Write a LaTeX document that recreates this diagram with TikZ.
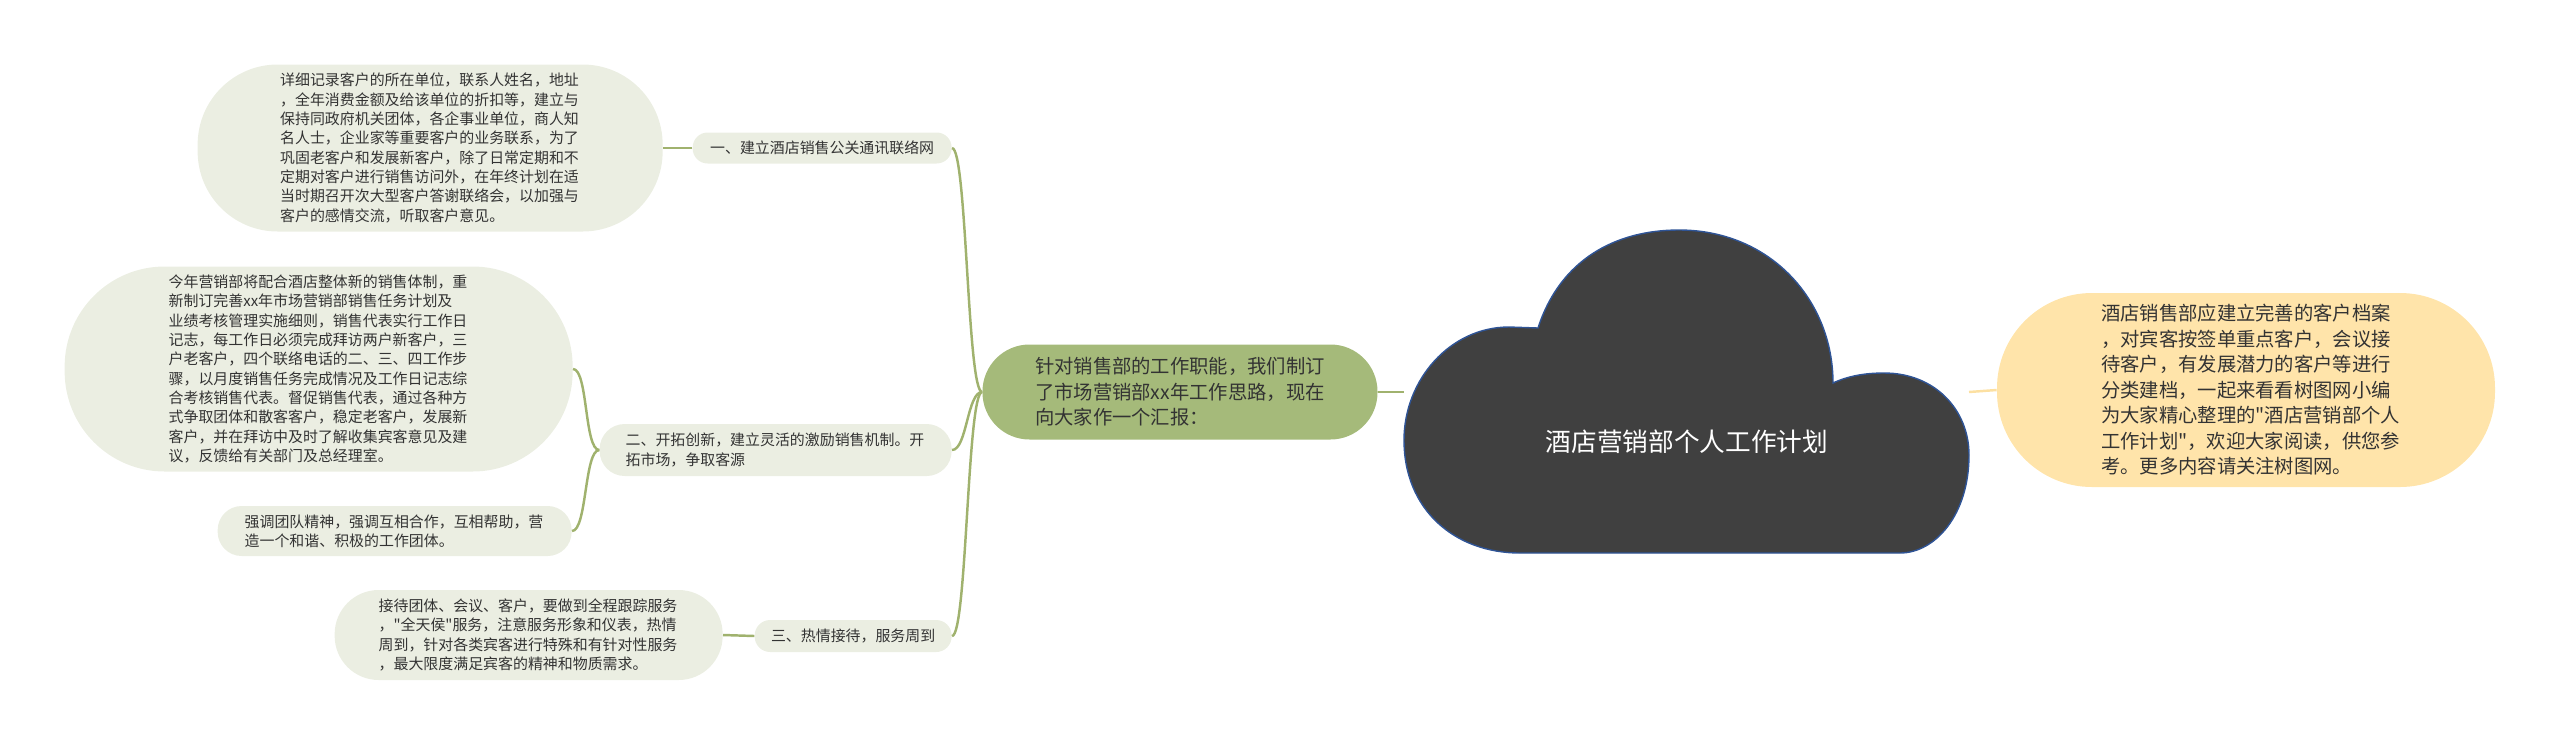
\documentclass[tikz,border=0pt]{standalone}
\usepackage{fontspec}
\setmainfont{Noto Sans CJK SC}
\newfontfamily\rawcjk{Noto Sans CJK SC}
\usetikzlibrary{positioning, calc}
\definecolor{leafbg}{HTML}{EBEEE2}
\definecolor{mainbg}{HTML}{A5BA7A}
\definecolor{introbg}{HTML}{FFE4AA}
\definecolor{cloudbg}{HTML}{404040}
\definecolor{cloudline}{HTML}{2F5496}
\definecolor{lgreen}{HTML}{A0B26E}
\definecolor{lyellow}{HTML}{FCE0A2}
\definecolor{ink}{HTML}{333333}
% plain straight double quote (no tex-text mapping)
\newcommand{\sq}{{\rawcjk"}}
\tikzset{
  leaf/.style={
    fill=leafbg, text=ink, align=left, text width=6cm, inner sep=0pt,
    font=\fontsize{8.5}{11}\selectfont
  },
  branch/.style={
    fill=leafbg, text=ink, align=left, inner sep=0pt,
    font=\fontsize{8.5}{11}\selectfont
  },
  hub/.style={
    fill=#1, text=ink, align=left, text width=5.8cm, inner sep=0pt,
    font=\fontsize{11}{14.5}\selectfont
  },
  conn/.style={draw=lgreen, line width=1.4pt},
  yconn/.style={draw=lyellow, line width=1.4pt}
}

\begin{document}
\begin{tikzpicture}
  \useasboundingbox (0,0) rectangle (51.2,-14.94);

  % the cloud in the middle
  \filldraw[fill=cloudbg, draw=cloudline, line width=0.8pt]
    (30.4,-11.06) .. controls (29.1,-11.06) and (28.08,-10.2) .. (28.08,-8.8)
    .. controls (28.08,-7.6) and (29.0,-6.54) .. (30.18,-6.54)
    -- (30.76,-6.56)
    .. controls (31.2,-5.2) and (32.3,-4.6) .. (33.58,-4.6)
    .. controls (35.4,-4.6) and (36.66,-6.0) .. (36.66,-7.66)
    .. controls (36.96,-7.52) and (37.3,-7.46) .. (37.68,-7.46)
    .. controls (38.7,-7.46) and (39.38,-8.2) .. (39.38,-9.1)
    .. controls (39.38,-10.3) and (38.7,-11.06) .. (38.0,-11.06)
    -- cycle;
  \node[text=white, font=\fontsize{14.6}{18}\selectfont] (title) at (33.74,-8.84)
    {酒店营销部个人工作计划};
  \coordinate (cloudW) at (28.08,-7.84);
  \coordinate (cloudE) at (39.38,-7.84);

  % centre branch and intro
  \node[hub=mainbg, minimum width=7.9cm, minimum height=1.9cm, rounded corners=0.94cm] (main) at (23.6,-7.84)
    {针对销售部的工作职能，我们制订\\了市场营销部xx年工作思路，现在\\向大家作一个汇报：};
  \node[hub=introbg, minimum width=9.96cm, minimum height=3.88cm, rounded corners=1.9cm] (intro) at (44.92,-7.8)
    {酒店销售部应建立完善的客户档案\\，对宾客按签单重点客户，会议接\\待客户，有发展潜力的客户等进行\\分类建档，一起来看看树图网小编\\为大家精心整理的\sq 酒店营销部个人\\工作计划\sq ，欢迎大家阅读，供您参\\考。更多内容请关注树图网。};

  % three branches
  \node[branch, anchor=east, minimum width=5.18cm, minimum height=0.62cm, rounded corners=0.3cm, align=center] (l1) at (19.04,-2.96)
    {一、建立酒店销售公关通讯联络网};
  \node[branch, anchor=east, text width=6cm, minimum width=7.04cm, minimum height=1.04cm, rounded corners=0.5cm] (l2) at (19.04,-9.0)
    {二、开拓创新，建立灵活的激励销售机制。开\\拓市场，争取客源};
  \node[branch, anchor=east, minimum width=3.94cm, minimum height=0.64cm, rounded corners=0.31cm, align=center] (l3) at (19.04,-12.72)
    {三、热情接待，服务周到};

  % leaves
  \node[leaf, anchor=east, minimum width=9.3cm, minimum height=3.34cm, rounded corners=1.6cm] (nA) at (13.26,-2.96)
    {详细记录客户的所在单位，联系人姓名，地址\\，全年消费金额及给该单位的折扣等，建立与\\保持同政府机关团体，各企事业单位，商人知\\名人士，企业家等重要客户的业务联系，为了\\巩固老客户和发展新客户，除了日常定期和不\\定期对客户进行销售访问外，在年终计划在适\\当时期召开次大型客户答谢联络会，以加强与\\客户的感情交流，听取客户意见。};
  \node[leaf, anchor=east, minimum width=10.16cm, minimum height=4.1cm, rounded corners=2cm] (nB) at (11.46,-7.38)
    {今年营销部将配合酒店整体新的销售体制，重\\新制订完善xx年市场营销部销售任务计划及\\业绩考核管理实施细则，销售代表实行工作日\\记志，每工作日必须完成拜访两户新客户，三\\户老客户，四个联络电话的二、三、四工作步\\骤，以月度销售任务完成情况及工作日记志综\\合考核销售代表。督促销售代表，通过各种方\\式争取团体和散客客户，稳定老客户，发展新\\客户，并在拜访中及时了解收集宾客意见及建\\议，反馈给有关部门及总经理室。};
  \node[leaf, anchor=east, minimum width=7.08cm, minimum height=1.0cm, rounded corners=0.48cm] (nC) at (11.44,-10.62)
    {强调团队精神，强调互相合作，互相帮助，营\\造一个和谐、积极的工作团体。};
  \node[leaf, anchor=east, minimum width=7.76cm, minimum height=1.8cm, rounded corners=0.88cm] (nD) at (14.46,-12.7)
    {接待团体、会议、客户，要做到全程跟踪服务\\，\sq 全天侯\sq 服务，注意服务形象和仪表，热情\\周到，针对各类宾客进行特殊和有针对性服务\\，最大限度满足宾客的精神和物质需求。};

  % connectors
  \draw[conn] (main.east) -- (cloudW);
  \draw[yconn] (cloudE) -- (intro.west);
  \foreach \lab in {l1, l2, l3}
    \draw[conn] (main.west) .. controls +(-0.3,0) and +(0.3,0) .. (\lab.east);
  \draw[conn] (l1.west) -- (nA.east);
  \draw[conn] (l2.west) .. controls +(-0.3,0) and +(0.3,0) .. (nB.east);
  \draw[conn] (l2.west) .. controls +(-0.3,0) and +(0.3,0) .. (nC.east);
  \draw[conn] (l3.west) -- (nD.east);
\end{tikzpicture}
\end{document}
